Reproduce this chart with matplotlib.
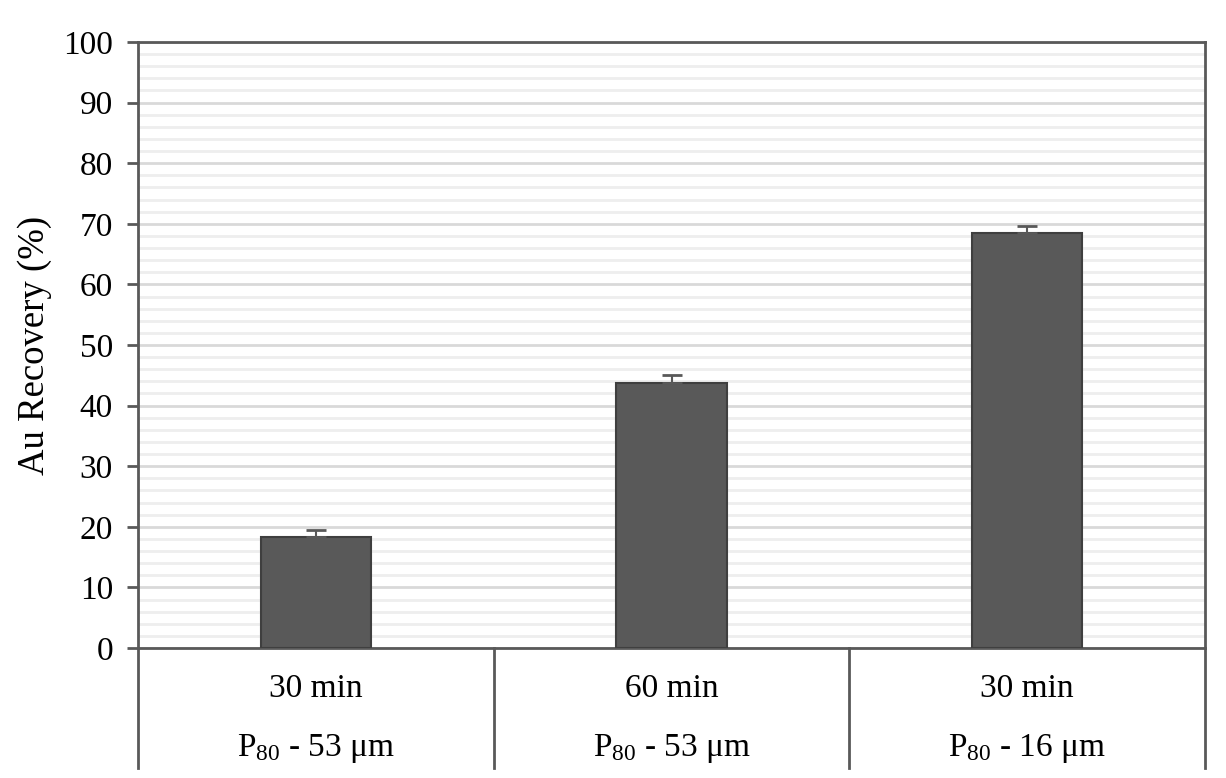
import matplotlib
matplotlib.use("Agg")
import matplotlib.pyplot as plt
import matplotlib.transforms as mtransforms
from matplotlib.ticker import MultipleLocator

times = ["30 min", "60 min", "30 min"]
sizes = [r"P$_{\mathrm{80}}$ - 53 μm", r"P$_{\mathrm{80}}$ - 53 μm", r"P$_{\mathrm{80}}$ - 16 μm"]
recovery = [18.3, 43.8, 68.5]
errors = [1.2, 1.2, 1.1]

plt.rcParams['font.family'] = ['Liberation Serif', 'DejaVu Serif']
plt.rcParams['mathtext.fontset'] = 'custom'
plt.rcParams['mathtext.rm'] = 'Liberation Serif'
plt.rcParams['mathtext.it'] = 'Liberation Serif:italic'

frame = '#595959'
fig = plt.figure(figsize=(12.26, 7.78), dpi=100)
ax = fig.add_axes([0.1126, 0.1671, 0.8703, 0.7789])

x = range(len(recovery))
ax.bar(x, recovery, width=0.31, color='#595959', edgecolor='#3f3f3f', linewidth=1.5, zorder=3)
ax.errorbar(x, recovery, yerr=[[0] * 3, errors], fmt='none', ecolor=frame,
            elinewidth=1.5, capsize=7, capthick=2, zorder=4)

ax.set_xlim(-0.5, 2.5)
ax.set_ylim(0, 100)
ax.yaxis.set_major_locator(MultipleLocator(10))
ax.yaxis.set_minor_locator(MultipleLocator(2))
ax.grid(which='major', axis='y', color='#d9d9d9', linewidth=2, zorder=0)
ax.grid(which='minor', axis='y', color='#eeeeee', linewidth=2, zorder=0)
ax.tick_params(axis='y', which='major', labelsize=24, length=8, width=2, color=frame, pad=10)
ax.tick_params(axis='y', which='minor', length=0)
ax.set_xticks([])
ax.set_ylabel("Au Recovery (%)", fontsize=26.5, labelpad=8)

for s in ax.spines.values():
    s.set_color(frame)
    s.set_linewidth(2)

# category table below the axis
trans = mtransforms.blended_transform_factory(ax.transData, ax.transAxes)
for xd in [-0.5, 0.5, 1.5, 2.5]:
    ax.plot([xd, xd], [0, -0.198], transform=trans, color=frame, linewidth=2, clip_on=False)
for i in x:
    ax.text(i, -0.068, times[i], transform=trans, ha='center', va='center', fontsize=24)
    ax.text(i, -0.166, sizes[i], transform=trans, ha='center', va='center', fontsize=24)

fig.savefig("out.png", dpi=100)
